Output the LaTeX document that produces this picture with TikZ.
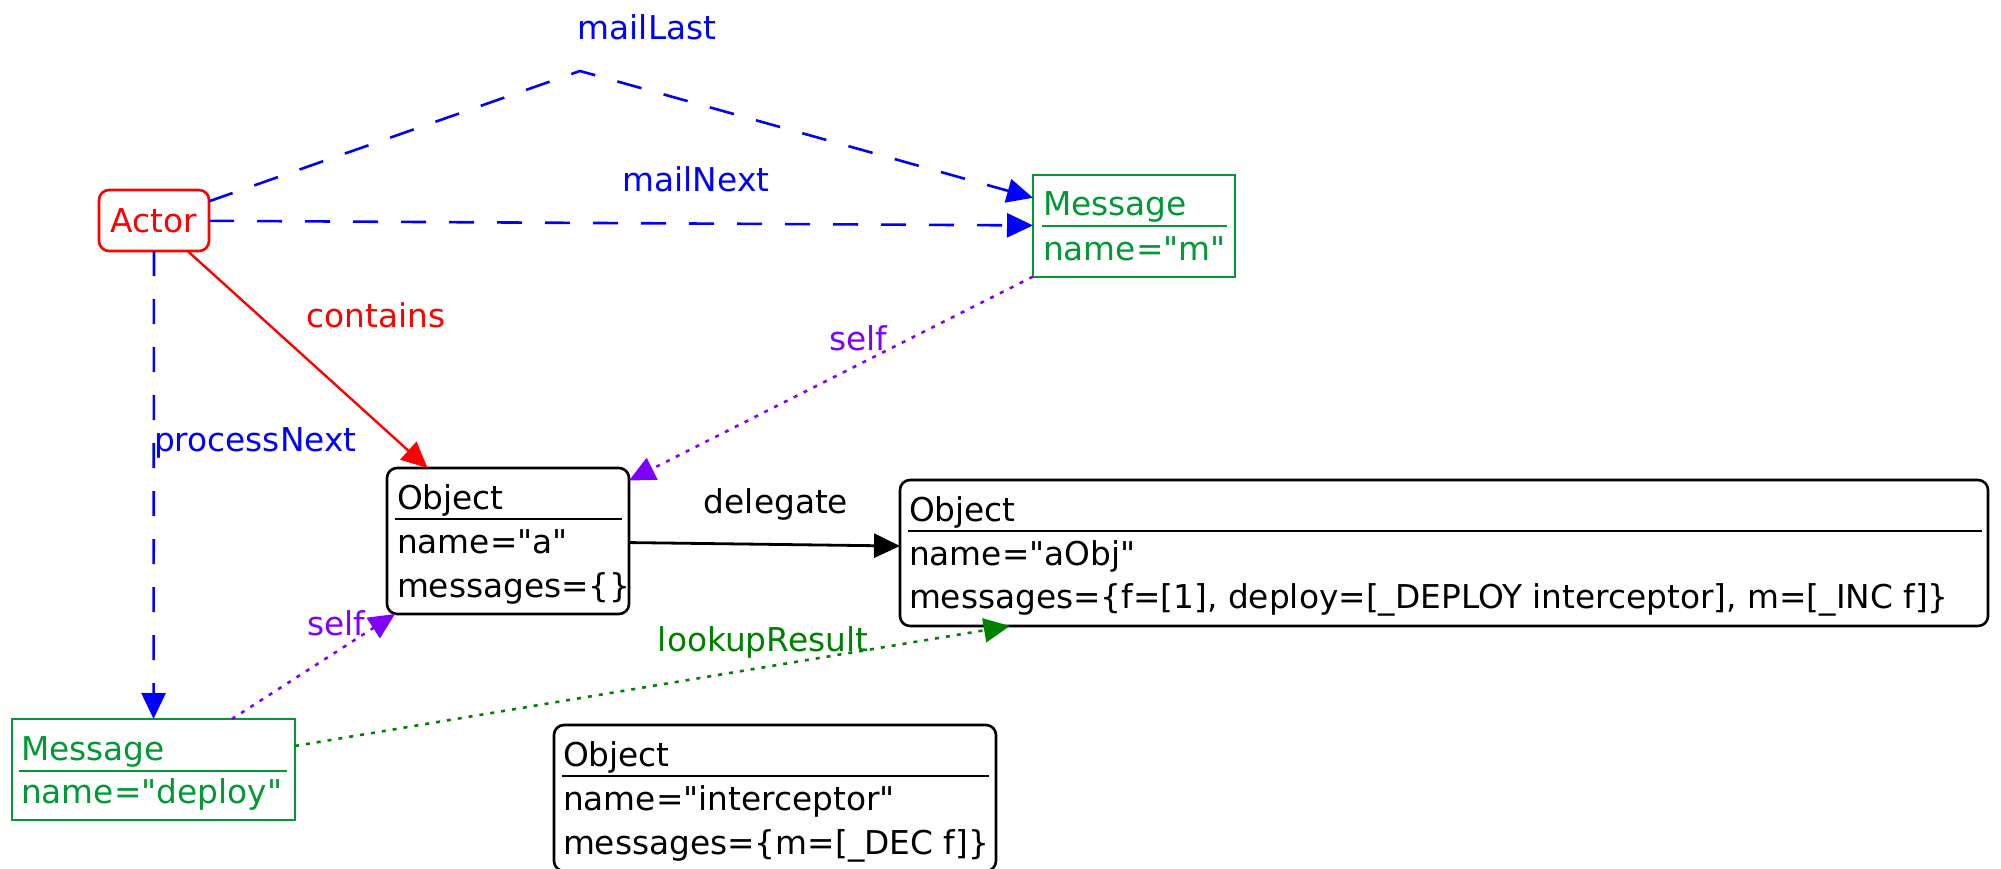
\documentclass[tikz,border=0pt]{standalone}
\usepackage{fontspec}
\newfontfamily\diagfont{DejaVu Sans}
\usetikzlibrary{arrows.meta}
\definecolor{actred}{RGB}{255,0,0}
\definecolor{linkblue}{RGB}{0,0,255}
\definecolor{msggreen}{RGB}{0,153,51}
\definecolor{resgreen}{RGB}{0,128,0}
\definecolor{selfviolet}{RGB}{127,0,255}
\begin{document}
\begin{tikzpicture}[x=1pt,y=-1pt,
  every node/.style={font=\diagfont\fontsize{32.8}{39}\selectfont, inner sep=0pt, outer sep=0pt},
  objbox/.style={draw=black, line width=2.6pt, rounded corners=10pt, fill=white},
  msgbox/.style={draw=msggreen, line width=2.6pt, fill=white},
  actorbox/.style={draw=actred, text=actred, line width=2.6pt, rounded corners=10pt, fill=white},
  txt/.style={anchor=base west},
  divider/.style={line width=2.5pt},
  headtip/.style={-{Triangle[length=26pt,width=24pt]}},
  bluelink/.style={draw=linkblue, line width=2.6pt, dash pattern=on 25pt off 23pt, headtip},
  redlink/.style={draw=actred, line width=2.4pt, headtip},
  blacklink/.style={draw=black, line width=2.8pt, headtip},
  violetlink/.style={draw=selfviolet, line width=2.6pt, dash pattern=on 4pt off 7pt, headtip},
  greenlink/.style={draw=resgreen, line width=2.6pt, dash pattern=on 4pt off 7pt, headtip},
  lbl/.style={anchor=base}
]
\useasboundingbox (0,0) rectangle (2001,869);

% Actor
\node[actorbox, minimum width=110pt, minimum height=61pt] (actor) at (154,220.5) {Actor};

% Message "m"
\node[msgbox, minimum width=202pt, minimum height=102pt] (mm) at (1134,226) {};
\node[txt, text=msggreen] (mm-title) at (1043,215) {Message};
\draw[divider, msggreen] (1042,226) -- (1227,226);
\node[txt, text=msggreen] (mm-name) at (1043,260) {name="m"};

% Object "a"
\node[objbox, minimum width=242pt, minimum height=146pt] (oa) at (508,541) {};
\node[txt] (oa-title) at (397,509) {Object};
\draw[divider] (395,519) -- (622,519);
\node[txt] (oa-name) at (397,553) {name="a"};
\node[txt] (oa-msgs) at (397,597) {messages=\{\}};

% Object "aObj"
\node[objbox, minimum width=1088pt, minimum height=146pt] (ao) at (1444,553) {};
\node[txt] (ao-title) at (909,521) {Object};
\draw[divider] (908,531) -- (1982,531);
\node[txt] (ao-name) at (909,565) {name="aObj"};
\node[txt] (ao-msgs) at (909,608) {messages=\{f=[1], deploy=[\_DEPLOY interceptor], m=[\_INC f]\}};

% Object "interceptor"
\node[objbox, minimum width=442pt, minimum height=146pt] (oi) at (775,798) {};
\node[txt] (oi-title) at (563,766) {Object};
\draw[divider] (562,776) -- (989,776);
\node[txt] (oi-name) at (563,810) {name="interceptor"};
\node[txt] (oi-msgs) at (563,854) {messages=\{m=[\_DEC f]\}};

% Message "deploy"
\node[msgbox, minimum width=283pt, minimum height=101pt] (md) at (153.5,769.5) {};
\node[txt, text=msggreen] (md-title) at (21,760) {Message};
\draw[divider, msggreen] (19,771) -- (287,771);
\node[txt, text=msggreen] (md-name) at (21,803) {name="deploy"};

% connector labels
\node[lbl, text=linkblue] (l-maillast) at (647,40) {mailLast};
\node[lbl, text=linkblue] (l-mailnext) at (696,192) {mailNext};
\node[lbl, text=actred] (l-contains) at (376,327) {contains};
\node[anchor=base west, text=linkblue] (l-process) at (154,451) {processNext};
\node[lbl, text=black] (l-delegate) at (776,513) {delegate};
\node[lbl, text=selfviolet] (l-self1) at (858,350) {self};
\node[lbl, text=selfviolet] (l-self2) at (336,635) {self};
\node[lbl, text=resgreen] (l-lookup) at (763,651) {lookupResult};

% connectors
\coordinate (peak) at (580,71);
\draw[bluelink] (actor) -- (peak) -- (mm);
\draw[bluelink] (actor) -- (mm);
\draw[bluelink] (actor) -- (md);
\draw[redlink] (actor) -- (oa);
\draw[violetlink] (mm) -- (oa);
\draw[violetlink] (md) -- (oa);
\draw[blacklink] (oa) -- (ao);
\draw[greenlink] (md) -- (ao);
\end{tikzpicture}
\end{document}
